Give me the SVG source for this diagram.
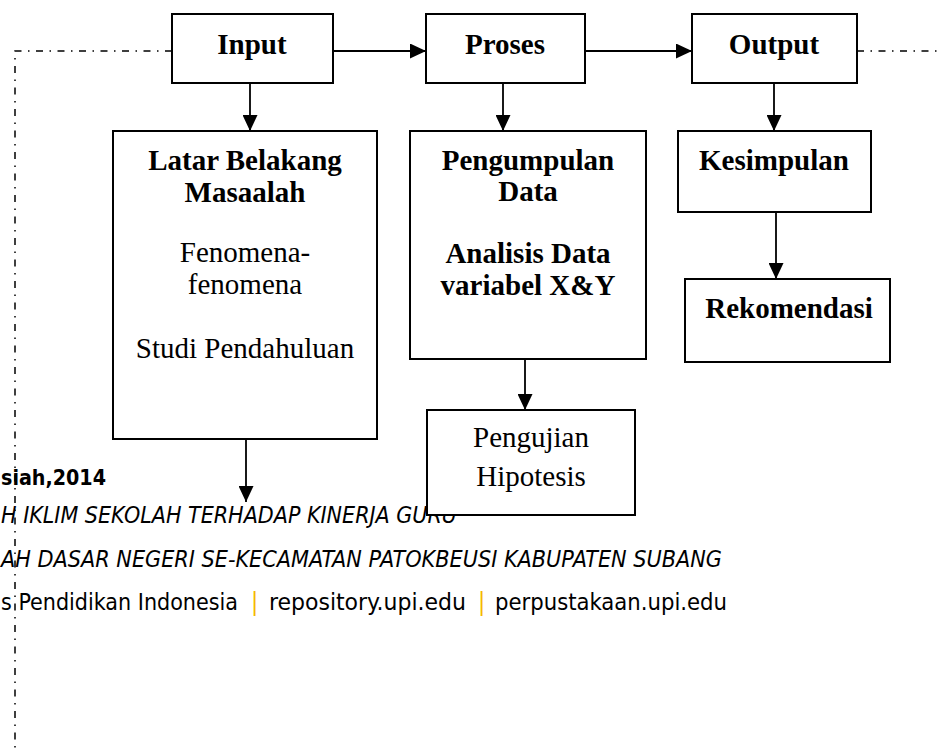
<svg xmlns="http://www.w3.org/2000/svg" width="940" height="748" viewBox="0 0 940 748">
<style>
.box{fill:#fff;stroke:#000;stroke-width:2}
.b{font-family:"Liberation Serif","Times New Roman",serif;font-weight:bold;font-size:29px;text-anchor:middle;fill:#000}
.r{font-family:"Liberation Serif","Times New Roman",serif;font-size:29px;text-anchor:middle;fill:#000}
.ln{stroke:#000;stroke-width:1.8;fill:none}
.dd{stroke:#000;stroke-width:1.5;fill:none;stroke-dasharray:7 6.5 1.5 6.5}
.ft{font-family:"DejaVu Sans Condensed","DejaVu Sans",sans-serif;font-stretch:condensed;fill:#000}
.pipe{fill:#f5b800}
</style>
<defs>
<marker id="ah" markerUnits="userSpaceOnUse" markerWidth="16" markerHeight="15" refX="16" refY="7.5" orient="auto">
<path d="M0,0 L16,7.5 L0,15 z" fill="#000"/>
</marker>
</defs>
<g id="footer">
<text class="ft" x="1" y="485" font-size="22" font-weight="bold" textLength="105" lengthAdjust="spacingAndGlyphs">siah,2014</text>
<text class="ft" x="1" y="523" font-size="22.5" font-style="italic" textLength="456" lengthAdjust="spacingAndGlyphs">H IKLIM SEKOLAH TERHADAP KINERJA GURU</text>
<text class="ft" x="1" y="567" font-size="22.5" font-style="italic" textLength="721" lengthAdjust="spacingAndGlyphs">AH DASAR NEGERI SE-KECAMATAN PATOKBEUSI KABUPATEN SUBANG</text>
<text class="ft" x="1" y="610" font-size="23" textLength="237" lengthAdjust="spacingAndGlyphs">s Pendidikan Indonesia</text>
<text class="ft pipe" x="251" y="610" font-size="24">|</text>
<text class="ft" x="269" y="610" font-size="23.5" textLength="197" lengthAdjust="spacingAndGlyphs">repository.upi.edu</text>
<text class="ft pipe" x="478" y="610" font-size="24">|</text>
<text class="ft" x="495" y="610" font-size="23.5" textLength="232" lengthAdjust="spacingAndGlyphs">perpustakaan.upi.edu</text>
</g>
<g id="input">
<rect class="box" x="172" y="14" width="161" height="69"/>
<text class="b" x="252" y="54">Input</text>
</g>
<g id="proses">
<rect class="box" x="426" y="14" width="159" height="69"/>
<text class="b" x="505" y="54">Proses</text>
</g>
<g id="output">
<rect class="box" x="692" y="14" width="165" height="69"/>
<text class="b" x="774" y="54">Output</text>
</g>
<g id="latar">
<rect class="box" x="113" y="131" width="264" height="308"/>
<text class="b" x="245" y="170">Latar Belakang</text>
<text class="b" x="245" y="202">Masaalah</text>
<text class="r" x="245" y="262">Fenomena-</text>
<text class="r" x="245" y="294">fenomena</text>
<text class="r" x="245" y="358">Studi Pendahuluan</text>
</g>
<g id="pengumpulan">
<rect class="box" x="410" y="131" width="236" height="228"/>
<text class="b" x="528" y="170">Pengumpulan</text>
<text class="b" x="528" y="201">Data</text>
<text class="b" x="528" y="263">Analisis Data</text>
<text class="b" x="528" y="295">variabel X&amp;Y</text>
</g>
<g id="pengujian">
<rect class="box" x="427" y="410" width="208" height="105"/>
<text class="r" x="531" y="447">Pengujian</text>
<text class="r" x="531" y="486">Hipotesis</text>
</g>
<g id="kesimpulan">
<rect class="box" x="678" y="131" width="193" height="81"/>
<text class="b" x="774" y="170">Kesimpulan</text>
</g>
<g id="rekomendasi">
<rect class="box" x="685" y="279" width="205" height="83"/>
<text class="b" x="789" y="318">Rekomendasi</text>
</g>
<g id="connectors">
<path class="dd" d="M172,51 H15 V748"/>
<path class="dd" d="M857,51 H940"/>
<line class="ln" x1="333" y1="51" x2="426" y2="51" marker-end="url(#ah)"/>
<line class="ln" x1="585" y1="51" x2="692" y2="51" marker-end="url(#ah)"/>
<line class="ln" x1="250" y1="83" x2="250" y2="131" marker-end="url(#ah)"/>
<line class="ln" x1="503" y1="83" x2="503" y2="131" marker-end="url(#ah)"/>
<line class="ln" x1="774" y1="83" x2="774" y2="131" marker-end="url(#ah)"/>
<line class="ln" x1="246" y1="439" x2="246" y2="502" marker-end="url(#ah)"/>
<line class="ln" x1="525" y1="359" x2="525" y2="410" marker-end="url(#ah)"/>
<line class="ln" x1="776" y1="212" x2="776" y2="279" marker-end="url(#ah)"/>
</g>
</svg>
